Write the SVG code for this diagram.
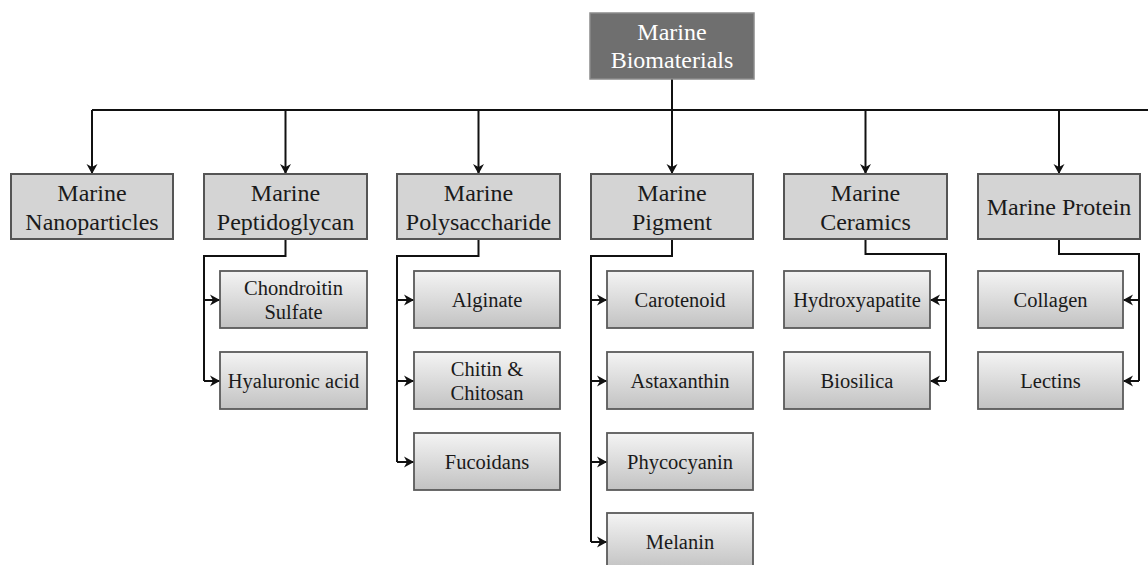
<svg xmlns="http://www.w3.org/2000/svg" width="1148" height="565" viewBox="0 0 1148 565">
<defs>
<linearGradient id="g" x1="0" y1="0" x2="0" y2="1">
<stop offset="0" stop-color="#f4f4f4"/>
<stop offset="1" stop-color="#c2c2c2"/>
</linearGradient>
<marker id="ah" markerWidth="12" markerHeight="12" refX="10" refY="6" orient="auto" markerUnits="userSpaceOnUse">
<path d="M0,0.5 L10,6 L0,11.5 L3,6 z" fill="#111"/>
</marker>
<style>
.root{fill:#6f6f6f;stroke:#8a8a8a;stroke-width:1.5}
.l1{fill:#d4d4d4;stroke:#555;stroke-width:2}
.ch{fill:url(#g);stroke:#5a5a5a;stroke-width:1.8}
text{font-family:"Liberation Serif","Times New Roman",serif;text-anchor:middle}
.t0{font-size:24px;fill:#fff}
.t1{font-size:24px;fill:#1a1a1a}
.t2{font-size:20.5px;fill:#1a1a1a}
.c{fill:none;stroke:#111;stroke-width:2}
.a{fill:none;stroke:#111;stroke-width:2;marker-end:url(#ah)}
</style>
</defs>
<g id="connectors">
<path class="c" d="M672,79 V110"/>
<path class="c" d="M92,110 H1150"/>
<path class="a" d="M92,110 V174"/>
<path class="a" d="M285.5,110 V174"/>
<path class="a" d="M478.5,110 V174"/>
<path class="a" d="M672,110 V174"/>
<path class="a" d="M865.5,110 V174"/>
<path class="a" d="M1059,110 V174"/>
<path class="c" d="M285.5,239 V256 H204 V381"/>
<path class="a" d="M204,300 H220"/>
<path class="a" d="M204,381 H220"/>
<path class="c" d="M478.5,239 V256 H397 V462"/>
<path class="a" d="M397,300 H414"/>
<path class="a" d="M397,381 H414"/>
<path class="a" d="M397,462 H414"/>
<path class="c" d="M672,239 V256 H591 V542"/>
<path class="a" d="M591,300 H607"/>
<path class="a" d="M591,381 H607"/>
<path class="a" d="M591,462 H607"/>
<path class="a" d="M591,542 H607"/>
<path class="c" d="M865.5,239 V254 H946 V381"/>
<path class="a" d="M946,300 H930"/>
<path class="a" d="M946,381 H930"/>
<path class="c" d="M1059,239 V254 H1139 V381"/>
<path class="a" d="M1139,300 H1123"/>
<path class="a" d="M1139,381 H1123"/>
</g>
<g id="root"><rect class="root" x="590" y="13" width="164" height="66"/><text class="t0" x="672" y="40">Marine</text><text class="t0" x="672" y="68">Biomaterials</text></g>
<g id="nanoparticles"><rect class="l1" x="11" y="174" width="162" height="65"/><text class="t1" x="92" y="201">Marine</text><text class="t1" x="92" y="230">Nanoparticles</text></g>
<g id="peptidoglycan"><rect class="l1" x="204" y="174" width="163" height="65"/><text class="t1" x="285.5" y="201">Marine</text><text class="t1" x="285.5" y="230">Peptidoglycan</text></g>
<g id="polysaccharide"><rect class="l1" x="397" y="174" width="163" height="65"/><text class="t1" x="478.5" y="201">Marine</text><text class="t1" x="478.5" y="230">Polysaccharide</text></g>
<g id="pigment"><rect class="l1" x="591" y="174" width="162" height="65"/><text class="t1" x="672" y="201">Marine</text><text class="t1" x="672" y="230">Pigment</text></g>
<g id="ceramics"><rect class="l1" x="784" y="174" width="163" height="65"/><text class="t1" x="865.5" y="201">Marine</text><text class="t1" x="865.5" y="230">Ceramics</text></g>
<g id="protein"><rect class="l1" x="978" y="174" width="162" height="65"/><text class="t1" x="1059" y="215">Marine Protein</text></g>
<g id="chondroitin"><rect class="ch" x="220" y="271" width="147" height="57"/><text class="t2" x="293.5" y="295">Chondroitin</text><text class="t2" x="293.5" y="319">Sulfate</text></g>
<g id="hyaluronic"><rect class="ch" x="220" y="352" width="147" height="57"/><text class="t2" x="293.5" y="388">Hyaluronic acid</text></g>
<g id="alginate"><rect class="ch" x="414" y="271" width="146" height="57"/><text class="t2" x="487" y="307">Alginate</text></g>
<g id="chitin"><rect class="ch" x="414" y="352" width="146" height="57"/><text class="t2" x="487" y="376">Chitin &amp;</text><text class="t2" x="487" y="400">Chitosan</text></g>
<g id="fucoidans"><rect class="ch" x="414" y="433" width="146" height="57"/><text class="t2" x="487" y="469">Fucoidans</text></g>
<g id="carotenoid"><rect class="ch" x="607" y="271" width="146" height="57"/><text class="t2" x="680" y="307">Carotenoid</text></g>
<g id="astaxanthin"><rect class="ch" x="607" y="352" width="146" height="57"/><text class="t2" x="680" y="388">Astaxanthin</text></g>
<g id="phycocyanin"><rect class="ch" x="607" y="433" width="146" height="57"/><text class="t2" x="680" y="469">Phycocyanin</text></g>
<g id="melanin"><rect class="ch" x="607" y="513" width="146" height="57"/><text class="t2" x="680" y="549">Melanin</text></g>
<g id="hydroxyapatite"><rect class="ch" x="784" y="271" width="146" height="57"/><text class="t2" x="857" y="307">Hydroxyapatite</text></g>
<g id="biosilica"><rect class="ch" x="784" y="352" width="146" height="57"/><text class="t2" x="857" y="388">Biosilica</text></g>
<g id="collagen"><rect class="ch" x="978" y="271" width="145" height="57"/><text class="t2" x="1050.5" y="307">Collagen</text></g>
<g id="lectins"><rect class="ch" x="978" y="352" width="145" height="57"/><text class="t2" x="1050.5" y="388">Lectins</text></g>
</svg>
